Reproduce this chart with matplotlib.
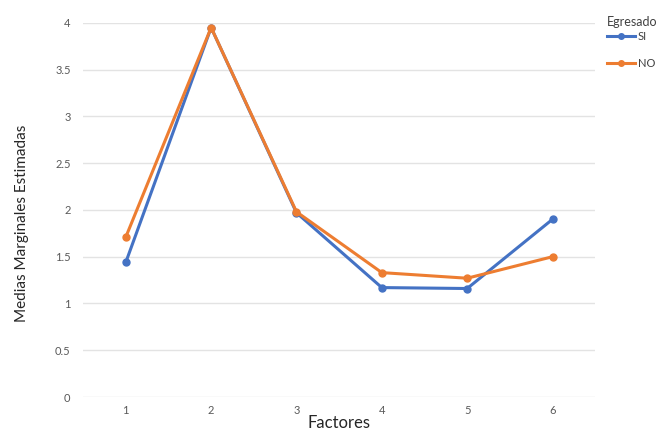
import matplotlib.pyplot as plt

# estimated marginal means per factor
factores = [1, 2, 3, 4, 5, 6]
medias_si = [1.44, 3.95, 1.97, 1.17, 1.16, 1.90]
medias_no = [1.71, 3.95, 1.98, 1.33, 1.27, 1.50]
yticks = [0, 0.5, 1, 1.5, 2, 2.5, 3, 3.5, 4]

plt.rcParams['font.family'] = ['Lato', 'DejaVu Sans']

fig = plt.figure(figsize=(6.65, 4.32), dpi=100)
ax = fig.add_axes([0.125, 0.081, 0.77, 0.866])

ax.plot(factores, medias_si, color='#4472C4', lw=2.2, marker='o', ms=5,
        label='SI', clip_on=False, zorder=3)
ax.plot(factores, medias_no, color='#ED7D31', lw=2.2, marker='o', ms=5,
        label='NO', clip_on=False, zorder=4)

ax.set_xlim(0.5, 6.5)
ax.set_ylim(0, 4)
ax.set_xticks(factores)
ax.set_yticks(yticks)
ax.set_yticklabels([f'{t:g}' for t in yticks])
ax.tick_params(length=0, labelsize=8, colors='#595959')
ax.tick_params(axis='x', pad=6)
ax.tick_params(axis='y', pad=9)
ax.grid(axis='y', color='#e3e3e3', lw=1)
ax.set_axisbelow(True)
for s in ax.spines.values():
    s.set_visible(False)

ax.set_xlabel('Factores', fontsize=12, color='#262626', labelpad=-1)
ax.set_ylabel('Medias Marginales Estimadas', fontsize=11, color='#262626')
ax.yaxis.set_label_coords(-0.105, 0.463)

leg = fig.legend(loc='upper left', bbox_to_anchor=(0.897, 0.985), frameon=False,
                 title='Egresado', fontsize=8, title_fontsize=9,
                 handlelength=2.6, handletextpad=0.2, labelspacing=1.4,
                 markerscale=0.8)
leg._legend_box.align = 'left'
leg._legend_box.sep = 2
leg.get_title().set_color('#404040')
for t in leg.get_texts():
    t.set_color('#404040')

fig.savefig('out.png', dpi=100)
